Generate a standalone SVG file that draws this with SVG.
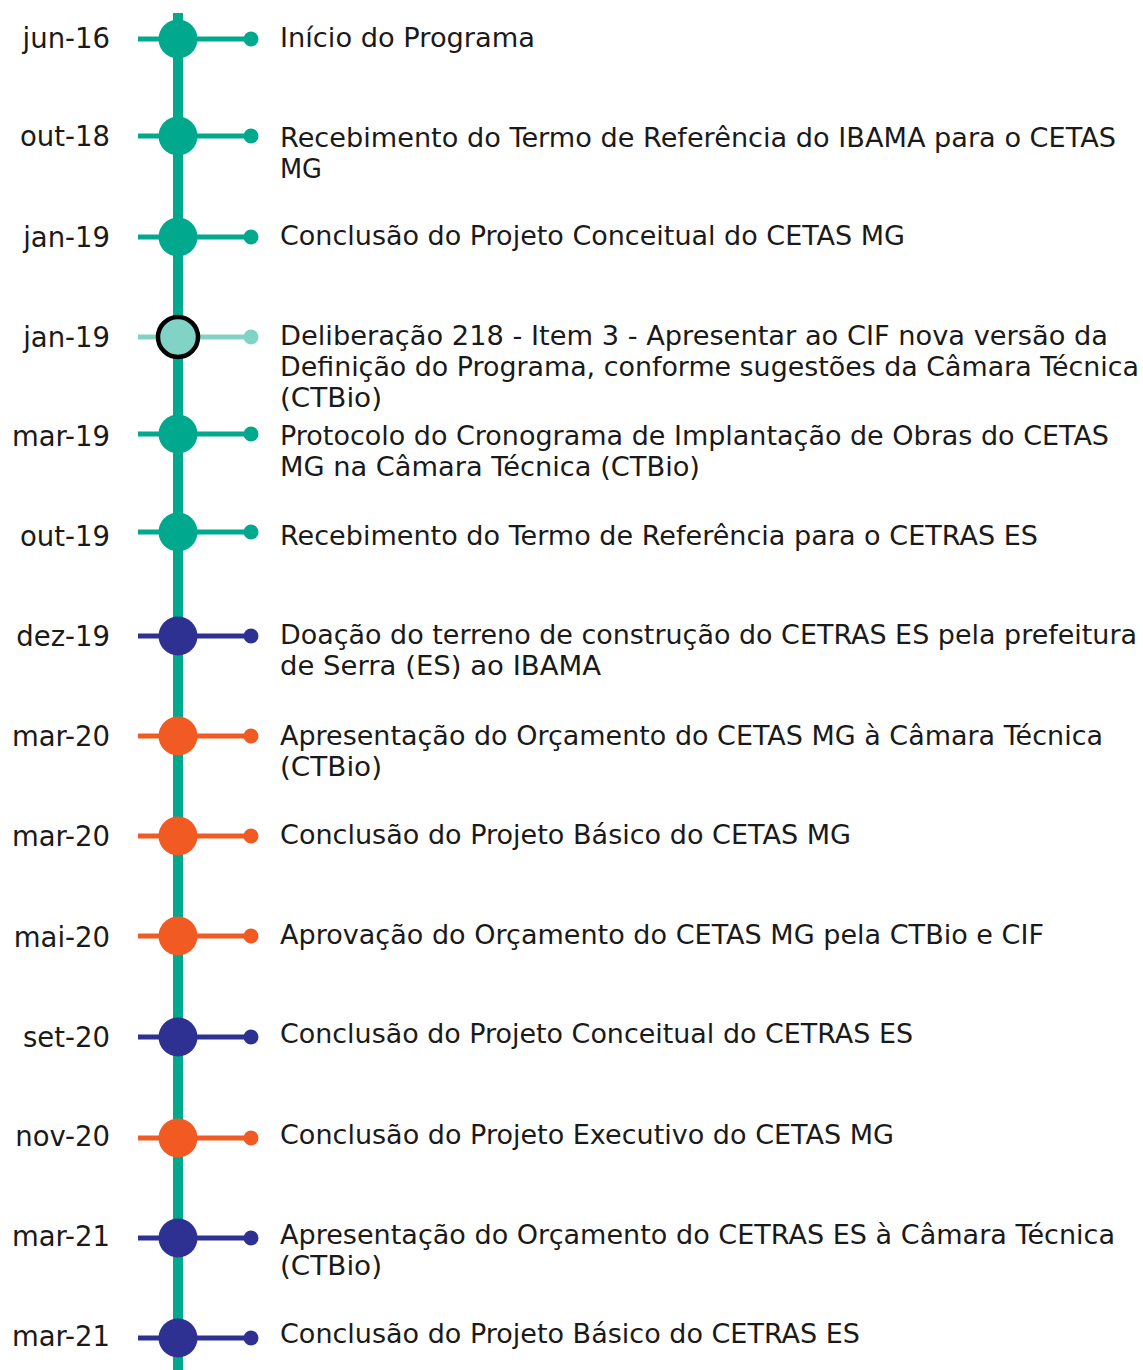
<svg xmlns="http://www.w3.org/2000/svg" width="1143" height="1370" viewBox="0 0 1143 1370">
<style>
text{font-family:"DejaVu Sans","Verdana",sans-serif;font-size:26px;fill:#1a1a1a}
.d{text-anchor:end;font-size:27.5px}
.teal line{stroke:#00A88E}.teal circle{fill:#00A88E}
.navy line{stroke:#2E3192}.navy circle{fill:#2E3192}
.orng line{stroke:#F15A22}.orng circle{fill:#F15A22}
.hl line{stroke:#80D3C5}.hl circle{fill:#80D3C5}
.tick{stroke-width:5}
</style>
<rect width="1143" height="1370" fill="#fff"/>
<g id="connectors">
<line x1="178" y1="13" x2="178" y2="1370" stroke="#00A88E" stroke-width="10"/>
</g>
<g id="n1" class="teal"><line class="tick" x1="138" y1="39" x2="251" y2="39"/><circle cx="178" cy="39" r="19.5"/><circle cx="251" cy="39" r="7.5"/>
<text class="d" x="110" y="48">jun-16</text>
<text x="280" y="47" textLength="255" lengthAdjust="spacingAndGlyphs">Início do Programa</text></g>
<g id="n2" class="teal"><line class="tick" x1="138" y1="136" x2="251" y2="136"/><circle cx="178" cy="136" r="19.5"/><circle cx="251" cy="136" r="7.5"/>
<text class="d" x="110" y="146">out-18</text>
<text x="280" y="147" textLength="836" lengthAdjust="spacingAndGlyphs">Recebimento do Termo de Referência do IBAMA para o CETAS</text>
<text x="280" y="178" textLength="42" lengthAdjust="spacingAndGlyphs">MG</text></g>
<g id="n3" class="teal"><line class="tick" x1="138" y1="237" x2="251" y2="237"/><circle cx="178" cy="237" r="19.5"/><circle cx="251" cy="237" r="7.5"/>
<text class="d" x="110" y="247">jan-19</text>
<text x="280" y="245" textLength="625" lengthAdjust="spacingAndGlyphs">Conclusão do Projeto Conceitual do CETAS MG</text></g>
<g id="n4" class="hl"><line class="tick" x1="138" y1="337" x2="251" y2="337"/><circle cx="178" cy="337" r="20" stroke="#000" stroke-width="4.5"/><circle cx="251" cy="337" r="7.5"/>
<text class="d" x="110" y="347">jan-19</text>
<text x="280" y="345" textLength="828" lengthAdjust="spacingAndGlyphs">Deliberação 218 - Item 3 - Apresentar ao CIF nova versão da</text>
<text x="280" y="376" textLength="859" lengthAdjust="spacingAndGlyphs">Definição do Programa, conforme sugestões da Câmara Técnica</text>
<text x="280" y="407" textLength="102" lengthAdjust="spacingAndGlyphs">(CTBio)</text></g>
<g id="n5" class="teal"><line class="tick" x1="138" y1="434" x2="251" y2="434"/><circle cx="178" cy="434" r="19.5"/><circle cx="251" cy="434" r="7.5"/>
<text class="d" x="110" y="446">mar-19</text>
<text x="280" y="445" textLength="829" lengthAdjust="spacingAndGlyphs">Protocolo do Cronograma de Implantação de Obras do CETAS</text>
<text x="280" y="476" textLength="420" lengthAdjust="spacingAndGlyphs">MG na Câmara Técnica (CTBio)</text></g>
<g id="n6" class="teal"><line class="tick" x1="138" y1="532" x2="251" y2="532"/><circle cx="178" cy="532" r="19.5"/><circle cx="251" cy="532" r="7.5"/>
<text class="d" x="110" y="546">out-19</text>
<text x="280" y="545" textLength="758" lengthAdjust="spacingAndGlyphs">Recebimento do Termo de Referência para o CETRAS ES</text></g>
<g id="n7" class="navy"><line class="tick" x1="138" y1="636" x2="251" y2="636"/><circle cx="178" cy="636" r="19.5"/><circle cx="251" cy="636" r="7.5"/>
<text class="d" x="110" y="646">dez-19</text>
<text x="280" y="644" textLength="857" lengthAdjust="spacingAndGlyphs">Doação do terreno de construção do CETRAS ES pela prefeitura</text>
<text x="280" y="675" textLength="321" lengthAdjust="spacingAndGlyphs">de Serra (ES) ao IBAMA</text></g>
<g id="n8" class="orng"><line class="tick" x1="138" y1="736" x2="251" y2="736"/><circle cx="178" cy="736" r="19.5"/><circle cx="251" cy="736" r="7.5"/>
<text class="d" x="110" y="746">mar-20</text>
<text x="280" y="745" textLength="823" lengthAdjust="spacingAndGlyphs">Apresentação do Orçamento do CETAS MG à Câmara Técnica</text>
<text x="280" y="776" textLength="102" lengthAdjust="spacingAndGlyphs">(CTBio)</text></g>
<g id="n9" class="orng"><line class="tick" x1="138" y1="836" x2="251" y2="836"/><circle cx="178" cy="836" r="19.5"/><circle cx="251" cy="836" r="7.5"/>
<text class="d" x="110" y="846">mar-20</text>
<text x="280" y="844" textLength="571" lengthAdjust="spacingAndGlyphs">Conclusão do Projeto Básico do CETAS MG</text></g>
<g id="n10" class="orng"><line class="tick" x1="138" y1="936" x2="251" y2="936"/><circle cx="178" cy="936" r="19.5"/><circle cx="251" cy="936" r="7.5"/>
<text class="d" x="110" y="947">mai-20</text>
<text x="280" y="944" textLength="764" lengthAdjust="spacingAndGlyphs">Aprovação do Orçamento do CETAS MG pela CTBio e CIF</text></g>
<g id="n11" class="navy"><line class="tick" x1="138" y1="1037" x2="251" y2="1037"/><circle cx="178" cy="1037" r="19.5"/><circle cx="251" cy="1037" r="7.5"/>
<text class="d" x="110" y="1047">set-20</text>
<text x="280" y="1043" textLength="633" lengthAdjust="spacingAndGlyphs">Conclusão do Projeto Conceitual do CETRAS ES</text></g>
<g id="n12" class="orng"><line class="tick" x1="138" y1="1138" x2="251" y2="1138"/><circle cx="178" cy="1138" r="19.5"/><circle cx="251" cy="1138" r="7.5"/>
<text class="d" x="110" y="1146">nov-20</text>
<text x="280" y="1144" textLength="614" lengthAdjust="spacingAndGlyphs">Conclusão do Projeto Executivo do CETAS MG</text></g>
<g id="n13" class="navy"><line class="tick" x1="138" y1="1238" x2="251" y2="1238"/><circle cx="178" cy="1238" r="19.5"/><circle cx="251" cy="1238" r="7.5"/>
<text class="d" x="110" y="1246">mar-21</text>
<text x="280" y="1244" textLength="835" lengthAdjust="spacingAndGlyphs">Apresentação do Orçamento do CETRAS ES à Câmara Técnica</text>
<text x="280" y="1275" textLength="102" lengthAdjust="spacingAndGlyphs">(CTBio)</text></g>
<g id="n14" class="navy"><line class="tick" x1="138" y1="1338" x2="251" y2="1338"/><circle cx="178" cy="1338" r="19.5"/><circle cx="251" cy="1338" r="7.5"/>
<text class="d" x="110" y="1346">mar-21</text>
<text x="280" y="1343" textLength="580" lengthAdjust="spacingAndGlyphs">Conclusão do Projeto Básico do CETRAS ES</text></g>
</svg>
